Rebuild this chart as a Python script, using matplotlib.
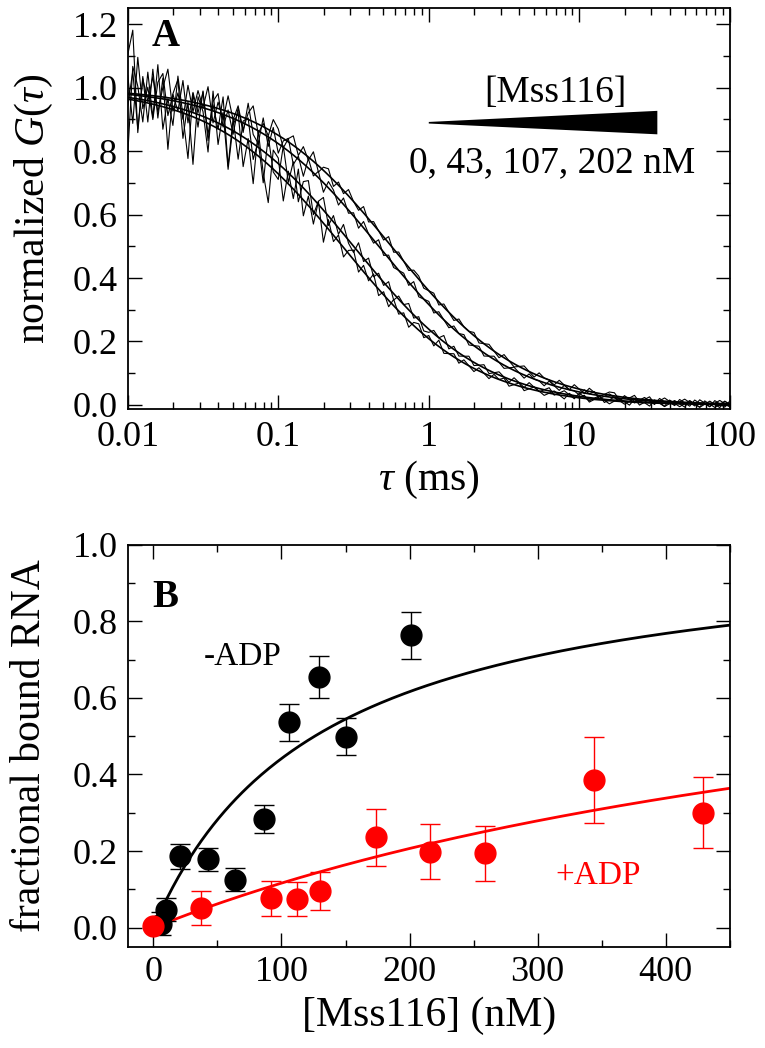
import numpy as np
import matplotlib
matplotlib.use("Agg")
import matplotlib.pyplot as plt
from matplotlib.ticker import MultipleLocator, NullFormatter

plt.rcParams['font.family'] = ['Liberation Serif', 'DejaVu Serif']
plt.rcParams['mathtext.fontset'] = 'custom'
plt.rcParams['mathtext.rm'] = 'Liberation Serif'
plt.rcParams['mathtext.it'] = 'Liberation Serif:italic'

# ---- panel A: FCS curves at 0, 43, 107, 202 nM Mss116 ----
# fitted diffusion times (ms) read from where each curve crosses G = 0.5 and 0.2
tau_d = [0.27, 0.32, 0.47, 0.57]
kappa = 10.0
# residuals of the measured traces around the fits, in units of 0.01
resid = [
    [14, 22, -10, 8, -6, 11, -4, 9, -13, 5, 10, -8, 4, -15, 7, 3, -9, 11, -5, 6, -11, 4, 9, -7, 3, -10, 8, -4, -12, 6,
     5, -7, 4, -3, 8, -5, 3, -4, 5, -6, 3, -2, 2, -3, 1, 3, -2, 2, -1, 3, -2, 1, -2, 2, -1, 1, -2, 1, 2, -1,
     1, -1, 2, -1, 0, 1, -1, 1, 0, -1, 1, 0, -1, 1, 0, 1, -1, 0, 1, -1, 0, 1, 0, -1, 0, 1, 0, -1, 1, 0,
     0, 1, -1, 0, 1, 0, -1, 0, 1, 0, -1, 1, 0, 0, -1, 1, 0, -1, 0, 1, 0, -1, 1, 0, -1, 0, 1, 0, -1, 1, 0],
    [-18, 10, 4, -7, 9, -5, 12, -8, 2, -6, 10, -2, -15, 6, -4, 8, -7, 5, -2, 9, -12, 4, -8, 5, 7, -5, 2, -10, 6, -4,
     -5, 7, -3, 5, -6, 2, 4, -5, 1, 4, -3, 2, -2, 3, -1, -2, 3, -1, 2, -2, 1, -1, 2, -2, 1, 0, 2, -1, 1, -2,
     -1, 1, 0, 2, -1, 1, -1, 0, 1, -1, 0, 1, -1, 0, 1, 0, -1, 1, 0, -1, 1, 0, -1, 0, 1, -1, 0, 1, 0, -1,
     1, 0, -1, 0, 1, -1, 0, 1, 0, -1, 0, 1, -1, 0, 1, 0, 0, -1, 1, 0, -1, 0, 1, 0, -1, 1, 0, -1, 0, 1, 0],
    [6, -9, 12, -4, 3, -7, 5, 8, -5, 2, -3, 7, -6, 4, -2, 5, -8, 3, 6, -4, 2, -5, 4, -3, 7, -2, -4, 5, -3, 4,
     -3, 2, 4, -3, 1, -4, 3, -1, 2, -3, 2, 1, -2, 2, -1, 1, -2, 2, 0, -1, 2, -1, 1, -1, 0, 1, -1, 2, -1, 0,
     1, -1, 1, 0, -1, 1, 0, 1, -1, 0, 1, -1, 0, 1, 0, -1, 0, 1, 0, -1, 1, 0, 0, -1, 1, 0, -1, 1, 0, 0,
     -1, 1, 0, 1, -1, 0, 1, 0, -1, 1, 0, -1, 0, 1, 0, -1, 1, 0, 0, -1, 1, 0, -1, 1, 0, 0, -1, 1, 0, -1, 1],
    [-4, 7, -11, 5, -2, 6, -5, 3, 9, -4, 2, -6, 5, -3, 4, -1, 6, -5, 2, -3, 5, -2, 3, -4, 2, 5, -3, 1, -2, 4,
     2, -3, 1, 3, -2, 2, -1, 3, -2, 1, 2, -2, 1, -1, 2, 0, -1, 2, -1, 1, 0, -1, 2, -1, 1, 0, -1, 1, 1, -1,
     0, 1, -1, 1, 0, -1, 1, 0, 0, 1, -1, 0, 1, 0, -1, 1, 0, -1, 0, 1, 0, -1, 1, 0, 0, -1, 1, 0, -1, 1,
     0, -1, 1, 0, -1, 0, 1, 1, -1, 0, 0, 1, -1, 0, 1, -1, 0, 1, 0, -1, 0, 1, 0, -1, 1, 0, -1, 0, 1, 0, -1],
]
a_xticks = [0.01, 0.1, 1, 10, 100]
a_xticklabels = ["0.01", "0.1", "1", "10", "100"]

# ---- panel B: binding data ----
conc_noadp = [6, 10, 21, 43, 64, 86, 106, 129, 150, 201]
frac_noadp = [0.01, 0.047, 0.186, 0.179, 0.125, 0.283, 0.536, 0.654, 0.499, 0.763]
err_noadp = [0.03, 0.03, 0.033, 0.03, 0.03, 0.037, 0.048, 0.055, 0.049, 0.062]
conc_adp = [0, 37, 92, 112, 130, 174, 216, 259, 344, 429]
frac_adp = [0.003, 0.052, 0.077, 0.075, 0.096, 0.236, 0.198, 0.194, 0.386, 0.30]
err_adp = [0.0, 0.044, 0.046, 0.045, 0.05, 0.075, 0.072, 0.072, 0.112, 0.093]
# hyperbolic fits: Bmax, Kd (nM)
fit_noadp = (1.02, 131.0)
fit_adp = (0.93, 700.0)


def fcs_model(t, td):
    return 1.0 / ((1 + t / td) * np.sqrt(1 + t / (kappa ** 2 * td)))


fig = plt.figure(figsize=(7.65, 10.48), dpi=100)
axA = fig.add_axes([0.167, 0.610, 0.787, 0.382])
axB = fig.add_axes([0.167, 0.0966, 0.787, 0.3836])

fs_tick = 26
fs_label = 30

for td, r in zip(tau_d, resid):
    tau = np.logspace(-2, 2, len(r))
    axA.plot(tau, fcs_model(tau, td) + np.array(r) / 100.0, color="black", lw=0.8)
tau_fine = np.logspace(-2, 2, 400)
for td in tau_d:
    axA.plot(tau_fine, fcs_model(tau_fine, td), color="black", lw=1.2)

axA.set_xscale("log")
axA.set_xlim(0.01, 100)
axA.set_ylim(-0.012, 1.25)
axA.set_xticks(a_xticks)
axA.set_xticklabels(a_xticklabels)
axA.xaxis.set_minor_formatter(NullFormatter())
axA.yaxis.set_minor_locator(MultipleLocator(0.1))
axA.set_yticks(np.arange(0, 1.21, 0.2))
axA.set_yticklabels(["0.0", "0.2", "0.4", "0.6", "0.8", "1.0", "1.2"])
axA.set_xlabel(r"$\tau$ (ms)", fontsize=fs_label)
axA.set_ylabel(r"normalized $G$($\tau$)", fontsize=fs_label)
axA.xaxis.set_label_coords(0.5, -0.125)
axA.yaxis.set_label_coords(-0.121, 0.5)
axA.text(0.04, 0.93, "A", transform=axA.transAxes, fontsize=28, fontweight="bold",
         ha="left", va="center")

# concentration wedge
axA.fill([1.0, 33.0, 33.0, 1.0], [0.892, 0.927, 0.853, 0.887], color="black", lw=0)
axA.text(0.71, 0.79, "[Mss116]", transform=axA.transAxes, fontsize=27,
         ha="center", va="center")
axA.text(0.705, 0.615, "0, 43, 107, 202 nM", transform=axA.transAxes, fontsize=27,
         ha="center", va="center")

# panel B
xfit = np.linspace(0, 450, 300)
axB.plot(xfit, fit_noadp[0] * xfit / (fit_noadp[1] + xfit), color="black", lw=2)
axB.plot(xfit, fit_adp[0] * xfit / (fit_adp[1] + xfit), color="red", lw=2)
axB.errorbar(conc_noadp, frac_noadp, yerr=err_noadp, fmt="o", color="black", ms=15,
             elinewidth=1, capsize=7, capthick=1, zorder=3)
axB.errorbar(conc_adp, frac_adp, yerr=err_adp, fmt="o", color="red", ms=15,
             elinewidth=1, capsize=7, capthick=1, zorder=3)

axB.set_xlim(-20, 450)
axB.set_ylim(-0.05, 1.0)
axB.xaxis.set_major_locator(MultipleLocator(100))
axB.xaxis.set_minor_locator(MultipleLocator(50))
axB.yaxis.set_minor_locator(MultipleLocator(0.1))
axB.set_yticks(np.arange(0, 1.01, 0.2))
axB.set_yticklabels(["0.0", "0.2", "0.4", "0.6", "0.8", "1.0"])
axB.set_xlabel("[Mss116] (nM)", fontsize=fs_label)
axB.set_ylabel("fractional bound RNA", fontsize=fs_label)
axB.xaxis.set_label_coords(0.5, -0.124)
axB.yaxis.set_label_coords(-0.13, 0.5)
axB.text(0.04, 0.87, "B", transform=axB.transAxes, fontsize=28, fontweight="bold",
         ha="left", va="center")
axB.text(70, 0.708, "-ADP", fontsize=24, ha="center", va="center", color="black")
axB.text(347, 0.135, "+ADP", fontsize=24, ha="center", va="center", color="red")

for ax in (axA, axB):
    ax.tick_params(which="both", direction="in", top=True, right=True, labelsize=fs_tick, width=1)
    ax.tick_params(which="major", length=10, pad=7)
    ax.tick_params(which="minor", length=5)
    for s in ax.spines.values():
        s.set_linewidth(1.3)
axA.tick_params(axis="x", which="major", pad=9)

fig.savefig("out.png", dpi=100)
